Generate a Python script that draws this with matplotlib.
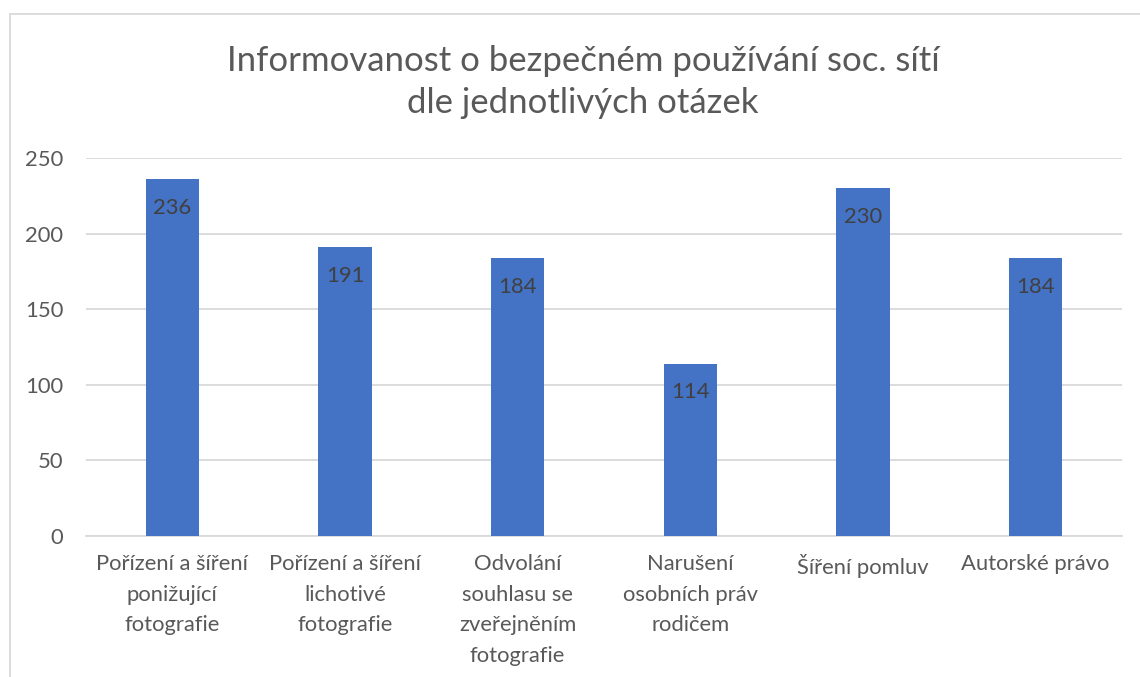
import matplotlib
matplotlib.use("Agg")
import matplotlib.pyplot as plt
from matplotlib.lines import Line2D

# Data
kategorie = [
    "Pořízení a šíření\nponižující\nfotografie",
    "Pořízení a šíření\nlichotivé\nfotografie",
    "Odvolání\nsouhlasu se\nzveřejněním\nfotografie",
    "Narušení\nosobních práv\nrodičem",
    "Šíření pomluv",
    "Autorské právo",
]
hodnoty = [236, 191, 184, 114, 230, 184]
yticks = [0, 50, 100, 150, 200, 250]
titulek = "Informovanost o bezpečném používání soc. sítí\ndle jednotlivých otázek"

plt.rcParams['font.family'] = ['Lato', 'DejaVu Sans']

W, H = 1140, 677
fig = plt.figure(figsize=(W / 100, H / 100), dpi=100)
ax = fig.add_axes([86 / W, 1 - 536 / H, (1122 - 86) / W, (536 - 158) / H])

x = range(len(kategorie))
bars = ax.bar(x, hodnoty, width=0.31, color="#4472C4", zorder=3)

for b, v in zip(bars, hodnoty):
    ax.text(b.get_x() + b.get_width() / 2, v - 19, str(v), ha="center", va="center",
            fontsize=15.8, color="#404040", zorder=4)

ax.set_xlim(-0.5, len(kategorie) - 0.5)
ax.set_ylim(0, 250)
ax.set_yticks(yticks)
ax.set_xticks(list(x))
ax.set_xticklabels(kategorie, linespacing=1.66)
ax.yaxis.grid(True, color="#D9D9D9", linewidth=1.3, zorder=0)
ax.tick_params(axis="both", length=0, labelsize=15.8, labelcolor="#595959")
ax.tick_params(axis="x", pad=13)
ax.tick_params(axis="y", pad=16.5)
for s in ["top", "right", "left"]:
    ax.spines[s].set_visible(False)
ax.spines["bottom"].set_color("#D9D9D9")
ax.spines["bottom"].set_linewidth(1.3)

fig.text(583 / W, 1 - 82 / H, titulek, ha="center", va="center",
         fontsize=25, color="#595959", linespacing=1.4)

# chart border (Excel style)
fig.add_artist(Line2D([10 / W, 10 / W], [0, 1 - 14 / H], transform=fig.transFigure,
                      color="#D9D9D9", linewidth=1.3))
fig.add_artist(Line2D([10 / W, 1], [1 - 14 / H, 1 - 14 / H], transform=fig.transFigure,
                      color="#D9D9D9", linewidth=1.3))

fig.savefig("out.png", dpi=100)
